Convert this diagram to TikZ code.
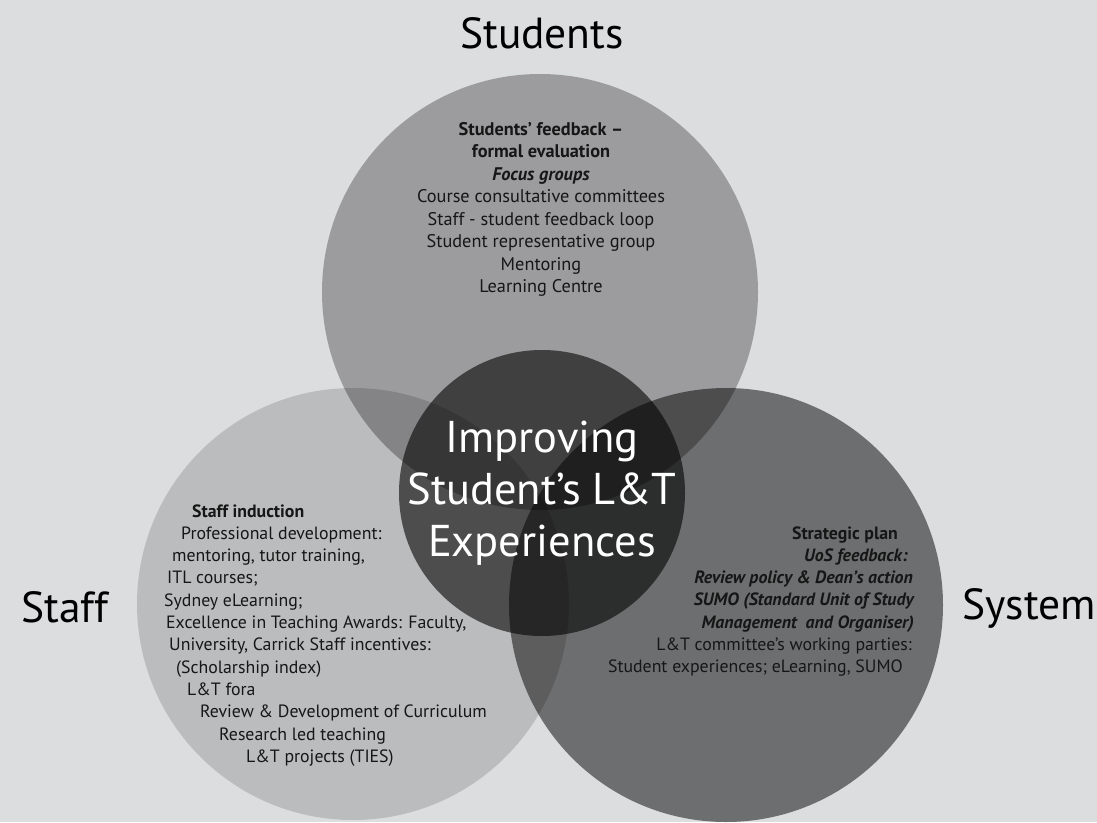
\documentclass[tikz,border=0pt]{standalone}
\usepackage{fontspec}
\setmainfont{PT Sans}
\definecolor{bgc}{HTML}{DCDDDF}
\definecolor{txt}{HTML}{161616}

\begin{document}
\begin{tikzpicture}[x=1pt,y=-1pt,
    ring/.style={fill=black,fill opacity=#1},
    head/.style={font=\fontsize{43.5}{50}\selectfont,text=black},
    item/.style={font=\fontsize{17.8}{20}\selectfont,text=txt,inner sep=0pt},
    big/.style={font=\fontsize{44.5}{52}\selectfont,align=center}]
    \fill[bgc] (0,0) rectangle (1097,822);
    \useasboundingbox (0,0) rectangle (1097,822);
    % the three circles and the middle one
    \fill[ring=0.29] (540,292) circle (218pt);
    \fill[ring=0.15] (353,604) circle (216pt);
    \fill[ring=0.5] (726,605) circle (217pt);
    \fill[ring=0.59] (542,493) circle (143pt);
    \node[head] (students) at (542,33) {Students};
    \node[head] (staff) at (65,607) {Staff};
    \node[head] (system) at (1029,608) {System};
    \node[big,text=white] (goal) at (542,493) {Improving\\Student's L\&T\\Experiences};
    % students
    \foreach \t [count=\i] in {{\textbf{Students' feedback --}},{\textbf{formal evaluation}},
        {\textbf{\textit{Focus groups}}},Course consultative committees,Staff - student feedback loop,
        Student representative group,Mentoring,Learning Centre}
      \node[item,font=\fontsize{18.3}{20}\selectfont,anchor=base] (top\i) at (541,{112.5+22.5*\i}) {\t};
    % staff
    \foreach \x/\t [count=\i] in {192/{\textbf{Staff induction}},181/Professional development:,
        172/{mentoring, tutor training,},167/ITL courses;,164/Sydney eLearning;,
        166/{Excellence in Teaching Awards: Faculty,},169/{University, Carrick Staff incentives:},
        176/(Scholarship index),187/L\&T fora,200/Review \& Development of Curriculum,
        219/Research led teaching,246/L\&T projects (TIES)}
      \node[item,anchor=base west] (left\i) at (\x,{494.7+22.3*\i}) {\t};
    % system
    \foreach \x/\t [count=\i] in {898/{\textbf{Strategic plan}},908/{\textbf{\textit{UoS feedback:}}},
        913/{\textbf{\textit{Review policy \& Dean's action}}},915/{\textbf{\textit{SUMO (Standard Unit of Study}}},
        914/{\textbf{\textit{Management\ \ and Organiser)}}},912/L\&T committee's working parties:,
        903/{Student experiences; eLearning, SUMO}}
      \node[item,anchor=base east] (right\i) at (\x,{516.7+22.3*\i}) {\t};
\end{tikzpicture}
\end{document}
